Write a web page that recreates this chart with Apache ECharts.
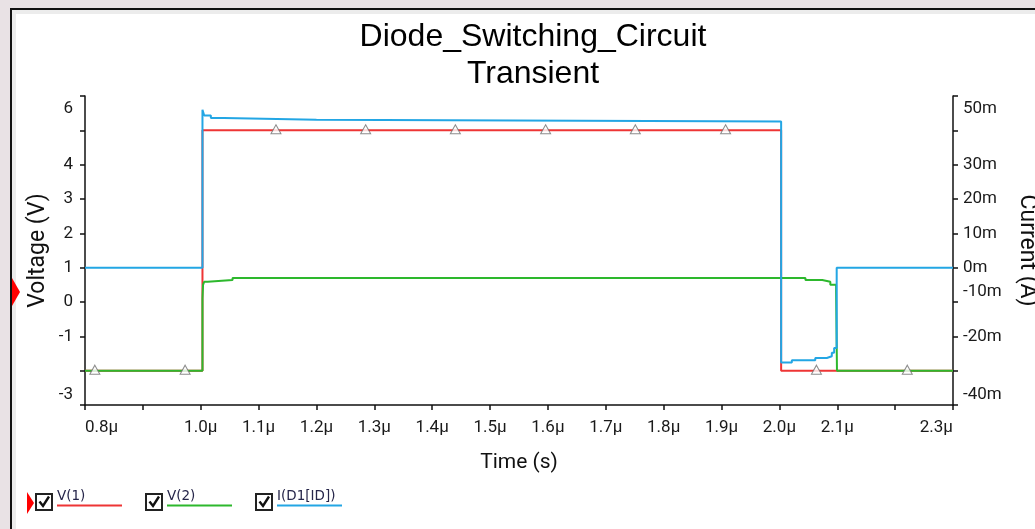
<!DOCTYPE html>
<html><head><meta charset="utf-8">
<script src="https://cdn.jsdelivr.net/npm/echarts@6/dist/echarts.min.js"></script>
<style>
html,body{margin:0;padding:0;width:1035px;height:529px;overflow:hidden;background:#e9e2e5;}
#panel{position:absolute;left:10px;top:8px;width:1025px;height:521px;background:#fff;border-top:2px solid #111;border-left:2px solid #111;box-sizing:border-box;box-shadow:inset 4px 4px 0 #ececec;}
#chart{position:absolute;left:0;top:0;width:1035px;height:529px;}
</style></head><body>
<div id="panel"></div><div id="chart"></div>
<script>
// ---- data (time in µs, voltage in V, current in mA) ----
const v1Time   = [0.8, 1.003, 2.003, 2.3];
const v1Values = [-2, 5, -2, -2];

const v2Time   = [0.8, 1.003, 1.004, 1.006, 1.012, 1.055, 2.045, 2.074, 2.088, 2.098, 2.0995, 2.3];
const v2Values = [-2, 0.1, 0.5, 0.59, 0.64, 0.7, 0.64, 0.59, 0.5, 0.29, -2, -2];

const idTime   = [0.8, 1.003, 1.006, 1.0175, 1.04, 1.2, 2.003, 2.0215, 2.062, 2.082, 2.0906, 2.0946, 2.099, 2.3];
const idValues = [0, 46, 44.3, 43.6, 43.1, 42.6, -27.6, -27.0, -26.3, -25.8, -24.8, -23.4, 0, 0];

const markerTime   = [0.817, 0.973, 1.130, 1.285, 1.440, 1.596, 1.751, 1.907, 2.064, 2.221];
const markerValues = [-2, -2, 5, 5, 5, 5, 5, 5, -2, -2];

const xTickValues = [0.8, 0.9, 1.0, 1.1, 1.2, 1.3, 1.4, 1.5, 1.6, 1.7, 1.8, 1.9, 2.0, 2.1, 2.2, 2.3];
const xTickLabels = ['0.8µ', '', '1.0µ', '1.1µ', '1.2µ', '1.3µ', '1.4µ', '1.5µ', '1.6µ', '1.7µ', '1.8µ', '1.9µ', '2.0µ', '2.1µ', '', '2.3µ'];
const vTickValues = [-3, -2, -1, 0, 1, 2, 3, 4, 5, 6];
const vTickLabels = ['-3', '', '-1', '0', '1', '2', '3', '4', '', '6'];
const iTickValues = [-40, -30, -20, -10, 0, 10, 20, 30, 40, 50];
const iTickLabels = ['-40m', '', '-20m', '-10m', '0m', '10m', '20m', '30m', '', '50m'];

const seriesNames = ['V(1)', 'V(2)', 'I(D1[ID])'];
const seriesColors = ['#ee3535', '#2db82d', '#23a6e4'];

// ---- helpers ----
const zip = (a, b) => a.map((t, i) => [t, b[i]]);
const lookup = (vals, labels, v) => {
  for (let i = 0; i < vals.length; i++) if (Math.abs(vals[i] - v) < 1e-6) return labels[i];
  return '';
};
const axisFont = 'Roboto';
const labelColor = '#1a1a1a';
const richLabel = {
  top: {padding: [26, 0, 0, 0], fontFamily: axisFont, fontSize: 17, color: labelColor},
  bot: {padding: [0, 0, 20, 0], fontFamily: axisFont, fontSize: 17, color: labelColor},
  up:  {padding: [0, 0, 20, 0], fontFamily: axisFont, fontSize: 17, color: labelColor}
};
const axisLineStyle = {color: '#111', width: 1.5};

const chart = echarts.init(document.getElementById('chart'), null, {renderer: 'canvas'});

const legendX = [36, 146, 256];
const legendGraphics = [];
seriesNames.forEach((name, i) => {
  const x = legendX[i];
  legendGraphics.push(
    {type: 'rect', shape: {x: x, y: 494, width: 16, height: 16}, style: {fill: '#fff', stroke: '#222', lineWidth: 2}},
    {type: 'polyline', shape: {points: [[x + 3.5, 501.5], [x + 7, 506], [x + 13, 496.5]]}, style: {stroke: '#111', lineWidth: 2.4, fill: null}},
    {type: 'text', x: x + 21, y: 496, style: {text: name, font: '13.5px "DejaVu Sans"', fill: '#26264a', verticalAlign: 'middle', textAlign: 'left'}},
    {type: 'line', shape: {x1: x + 21, y1: 505.5, x2: x + 86, y2: 505.5}, style: {stroke: seriesColors[i], lineWidth: 2}}
  );
});
legendGraphics.push(
  {type: 'polygon', shape: {points: [[12, 278], [20, 292], [12, 306]]}, style: {fill: '#ff0000'}},
  {type: 'polygon', shape: {points: [[27, 492], [34, 503], [27, 514]]}, style: {fill: '#ff0000'}}
);

const option = {
  backgroundColor: 'transparent',
  animation: false,
  title: {
    text: 'Diode_Switching_Circuit\nTransient',
    left: 528, top: 14, textAlign: 'center',
    textStyle: {fontFamily: 'Liberation Sans', fontSize: 32, fontWeight: 'normal', color: '#000', lineHeight: 37}
  },
  grid: {left: 85, right: 82, top: 96, bottom: 124, containLabel: false, outerBoundsMode: 'none'},
  xAxis: {
    type: 'value', min: 0.8, max: 2.3, interval: 0.1,
    name: 'Time (s)', nameLocation: 'middle', nameGap: 47, nameMoveOverlap: false,
    nameTextStyle: {fontFamily: axisFont, fontSize: 21, color: '#111'},
    axisLine: {show: true, onZero: false, lineStyle: axisLineStyle},
    axisTick: {show: true, length: 5, lineStyle: axisLineStyle},
    axisLabel: {
      interval: 0, margin: 14, fontFamily: axisFont, fontSize: 17, color: labelColor,
      showMinLabel: true, showMaxLabel: true, alignMinLabel: 'left', alignMaxLabel: 'right',
      formatter: v => lookup(xTickValues, xTickLabels, v)
    },
    splitLine: {show: false}
  },
  yAxis: [
    {
      type: 'value', min: -3, max: 6, interval: 1, position: 'left',
      name: 'Voltage (V)', nameLocation: 'middle', nameGap: 35, nameRotate: 90, nameMoveOverlap: false,
      nameTextStyle: {fontFamily: axisFont, fontSize: 23, color: '#111'},
      axisLine: {show: true, onZero: false, lineStyle: axisLineStyle},
      axisTick: {show: true, length: 5, lineStyle: axisLineStyle},
      axisLabel: {
        interval: 0, margin: 12, fontFamily: axisFont, fontSize: 17, color: labelColor,
        showMinLabel: true, showMaxLabel: true, rich: richLabel,
        formatter: v => {
          const s = lookup(vTickValues, vTickLabels, v);
          if (!s) return '';
          if (v === 6) return '{top|' + s + '}';
          if (v === -3) return '{bot|' + s + '}';
          return s;
        }
      },
      splitLine: {show: false}
    },
    {
      type: 'value', min: -40, max: 50, interval: 10, position: 'right',
      name: 'Current (A)', nameLocation: 'middle', nameGap: 62, nameRotate: -90, nameMoveOverlap: false,
      nameTextStyle: {fontFamily: axisFont, fontSize: 23, color: '#111'},
      axisLine: {show: true, onZero: false, lineStyle: axisLineStyle},
      axisTick: {show: true, length: 5, lineStyle: axisLineStyle},
      axisLabel: {
        interval: 0, margin: 10, fontFamily: axisFont, fontSize: 17, color: labelColor,
        showMinLabel: true, showMaxLabel: true, rich: richLabel,
        formatter: v => {
          const s = lookup(iTickValues, iTickLabels, v);
          if (!s) return '';
          if (v === 50) return '{top|' + s + '}';
          if (v === -40) return '{bot|' + s + '}';
          if (v === -10) return '{up|' + s + '}';
          return s;
        }
      },
      splitLine: {show: false}
    }
  ],
  series: [
    {name: seriesNames[0], type: 'line', yAxisIndex: 0, step: 'end', data: zip(v1Time, v1Values),
     showSymbol: false, lineStyle: {color: seriesColors[0], width: 2}, z: 2},
    {name: seriesNames[1], type: 'line', yAxisIndex: 0, step: 'end', data: zip(v2Time, v2Values),
     showSymbol: false, lineStyle: {color: seriesColors[1], width: 2}, z: 3},
    {name: seriesNames[2], type: 'line', yAxisIndex: 1, step: 'end', data: zip(idTime, idValues),
     showSymbol: false, lineStyle: {color: seriesColors[2], width: 2}, z: 4},
    {name: 'markers', type: 'scatter', yAxisIndex: 0, data: zip(markerTime, markerValues),
     symbol: 'triangle', symbolSize: [10, 9], symbolOffset: [0, -1],
     itemStyle: {color: '#fff', borderColor: '#707070', borderWidth: 1}, z: 5}
  ],
  graphic: legendGraphics
};
chart.setOption(option);
</script>
</body></html>
